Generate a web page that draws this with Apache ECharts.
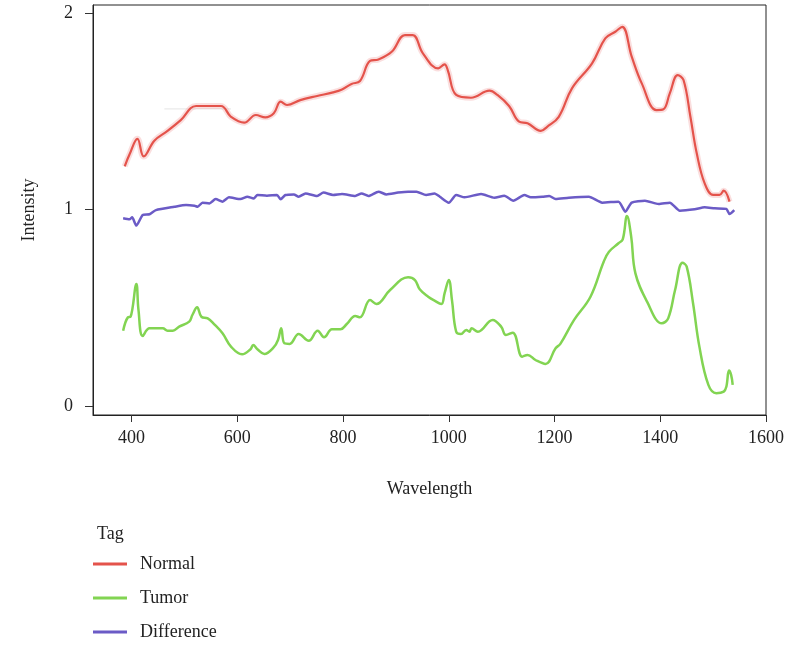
<!DOCTYPE html>
<html>
<head>
<meta charset="utf-8">
<script src="https://cdn.jsdelivr.net/npm/echarts@6/dist/echarts.min.js"></script>
<style>
  html, body { margin: 0; padding: 0; background: #fff; }
  #chart { width: 787px; height: 646px; }
</style>
</head>
<body>
<div id="chart"></div>
<script>
const xTicks = [400, 600, 800, 1000, 1200, 1400, 1600];
const yTicks = [0, 1, 2];
const seriesNames = ['Normal', 'Tumor', 'Difference'];

const normalWl = [387, 396, 411, 423, 443, 468, 493, 522, 569, 588, 613, 635, 653, 669, 682, 694, 719, 751, 781, 798,
  816, 832, 851, 867, 892, 917, 932, 951, 980, 992, 998, 1014, 1042, 1077, 1092, 1114, 1133, 1149, 1174, 1186,
  1208, 1233, 1271, 1296, 1315, 1328, 1346, 1365, 1393, 1406, 1418, 1433, 1444, 1457, 1469, 1484, 1500, 1512, 1520, 1531];
const normalVal = [1.22, 1.28, 1.36, 1.27, 1.35, 1.40, 1.455, 1.527, 1.527, 1.472, 1.442, 1.481, 1.469, 1.49, 1.549, 1.532, 1.557, 1.578, 1.596, 1.611,
  1.639, 1.654, 1.756, 1.764, 1.803, 1.888, 1.888, 1.795, 1.718, 1.739, 1.71, 1.583, 1.569, 1.605, 1.583, 1.527, 1.447, 1.439, 1.40, 1.421,
  1.472, 1.617, 1.744, 1.871, 1.905, 1.93, 1.778, 1.642, 1.506, 1.51, 1.591, 1.684, 1.659, 1.472, 1.286, 1.133, 1.074, 1.074, 1.096, 1.04];

const tumorWl = [384, 393, 398, 409, 413, 421, 434, 459, 468, 478, 490, 509, 515, 524, 532, 544, 556, 572, 588, 609,
  625, 630, 638, 651, 669, 677, 683, 689, 699, 716, 735, 752, 764, 779, 795, 807, 823, 832, 851, 863,
  889, 923, 936, 945, 961, 973, 986, 992, 1000, 1006, 1014, 1023, 1033, 1039, 1043, 1055, 1083, 1099, 1108, 1121,
  1139, 1149, 1164, 1183, 1202, 1211, 1237, 1268, 1293, 1303, 1321, 1329, 1337, 1345, 1353, 1375, 1403, 1415, 1428, 1442,
  1450, 1462, 1474, 1491, 1506, 1520, 1525, 1530, 1534, 1537];
const tumorVal = [0.383, 0.451, 0.454, 0.621, 0.489, 0.356, 0.395, 0.395, 0.383, 0.383, 0.404, 0.429, 0.463, 0.502, 0.454, 0.446, 0.417, 0.37, 0.302, 0.263,
  0.289, 0.31, 0.289, 0.265, 0.299, 0.336, 0.395, 0.319, 0.316, 0.366, 0.332, 0.383, 0.35, 0.39, 0.39, 0.417, 0.458, 0.451, 0.539, 0.519,
  0.59, 0.655, 0.641, 0.594, 0.556, 0.536, 0.519, 0.573, 0.641, 0.539, 0.378, 0.366, 0.387, 0.378, 0.395, 0.378, 0.438, 0.404, 0.361, 0.373,
  0.251, 0.26, 0.234, 0.214, 0.294, 0.316, 0.438, 0.556, 0.734, 0.785, 0.828, 0.848, 0.967, 0.862, 0.675, 0.531, 0.421, 0.446, 0.59, 0.729,
  0.709, 0.523, 0.302, 0.107, 0.065, 0.073, 0.098, 0.18, 0.158, 0.107];

const diffWl = [384, 396, 401, 409, 421, 434, 446, 481, 503, 519, 525, 534, 547, 559, 572, 584, 606, 619, 631, 638,
  656, 675, 682, 691, 707, 716, 729, 751, 763, 781, 798, 823, 835, 848, 867, 882, 904, 923, 939, 957,
  973, 983, 1000, 1014, 1030, 1061, 1086, 1105, 1122, 1143, 1155, 1177, 1190, 1202, 1227, 1265, 1290, 1321, 1334, 1346,
  1371, 1397, 1418, 1437, 1465, 1484, 1503, 1525, 1531, 1540];
const diffVal = [0.955, 0.95, 0.96, 0.918, 0.972, 0.976, 0.997, 1.014, 1.023, 1.019, 1.014, 1.035, 1.031, 1.053, 1.04, 1.062, 1.053, 1.065, 1.056, 1.074,
  1.07, 1.074, 1.052, 1.074, 1.077, 1.065, 1.082, 1.069, 1.086, 1.074, 1.079, 1.069, 1.082, 1.069, 1.091, 1.077, 1.086, 1.091, 1.091, 1.074,
  1.082, 1.065, 1.035, 1.074, 1.062, 1.079, 1.06, 1.07, 1.045, 1.074, 1.062, 1.065, 1.069, 1.053, 1.06, 1.065, 1.035, 1.04, 0.989, 1.035,
  1.045, 1.028, 1.035, 0.994, 1.001, 1.011, 1.006, 1.003, 0.977, 0.997];

// faint grey trace left over from the ribbon in the original
const guideWl = [462, 588];
const guideVal = [1.512, 1.512];

const colors = { Normal: '#E4534B', Tumor: '#82D452', Difference: '#6B5BC6' };
const font = 'Liberation Serif';

const zip = (xs, ys) => xs.map((x, i) => [x, ys[i]]);

const chart = echarts.init(document.getElementById('chart'));

chart.setOption({
  animation: false,
  backgroundColor: '#fff',
  textStyle: { fontFamily: font },
  grid: {
    left: 93, right: 19, top: 5, bottom: 231,
    show: true, borderColor: '#222', borderWidth: 1
  },
  title: {
    text: 'Tag',
    left: 92, top: 520,
    textStyle: { fontFamily: font, fontSize: 18, fontWeight: 'normal', color: '#222' }
  },
  legend: {
    data: seriesNames,
    orient: 'vertical',
    left: 93, top: 554,
    padding: 0,
    height: 100,
    icon: 'rect',
    itemWidth: 34, itemHeight: 3,
    itemGap: 14,
    textStyle: { fontFamily: font, fontSize: 18, color: '#222', padding: [0, 0, 0, 8], lineHeight: 20 }
  },
  xAxis: {
    type: 'value',
    min: 327, max: 1600,
    name: 'Wavelength',
    nameLocation: 'middle',
    nameGap: 65,
    nameTextStyle: { fontFamily: font, fontSize: 18, color: '#222' },
    splitLine: { show: false },
    axisLine: { onZero: false, lineStyle: { color: '#222', width: 1 } },
    axisTick: { length: 7, lineStyle: { color: '#333' }, customValues: xTicks },
    axisLabel: {
      fontFamily: font, fontSize: 18, color: '#222', margin: 14, customValues: xTicks,
      formatter: (v) => String(v)
    }
  },
  yAxis: {
    type: 'value',
    min: -0.046, max: 2.041,
    name: 'Intensity',
    nameLocation: 'middle',
    nameGap: 55,
    nameTextStyle: { fontFamily: font, fontSize: 18, color: '#222' },
    splitLine: { show: false },
    axisLine: { show: true, onZero: false, lineStyle: { color: '#222', width: 1 } },
    axisTick: { show: true, length: 8, lineStyle: { color: '#333' }, customValues: yTicks },
    axisLabel: {
      fontFamily: font, fontSize: 18, color: '#222', margin: 20, customValues: yTicks,
      formatter: (v) => String(v)
    }
  },
  series: [
    {
      name: 'guide', type: 'line', data: zip(guideWl, guideVal), showSymbol: false, silent: true,
      lineStyle: { color: '#e4e4e4', width: 1 }
    },
    {
      name: 'NormalBand', type: 'line', data: zip(normalWl, normalVal), smooth: 0.4, showSymbol: false, silent: true,
      lineStyle: { color: 'rgba(240,160,160,0.35)', width: 6 }
    },
    {
      name: 'Normal', type: 'line', data: zip(normalWl, normalVal), smooth: 0.4, showSymbol: false,
      color: colors.Normal, lineStyle: { color: colors.Normal, width: 2.2 }
    },
    {
      name: 'Tumor', type: 'line', data: zip(tumorWl, tumorVal), smooth: 0.4, showSymbol: false,
      color: colors.Tumor, lineStyle: { color: colors.Tumor, width: 2.5 }
    },
    {
      name: 'Difference', type: 'line', data: zip(diffWl, diffVal), smooth: 0.2, showSymbol: false,
      color: colors.Difference, lineStyle: { color: colors.Difference, width: 2.5 }
    }
  ]
});
</script>
</body>
</html>
